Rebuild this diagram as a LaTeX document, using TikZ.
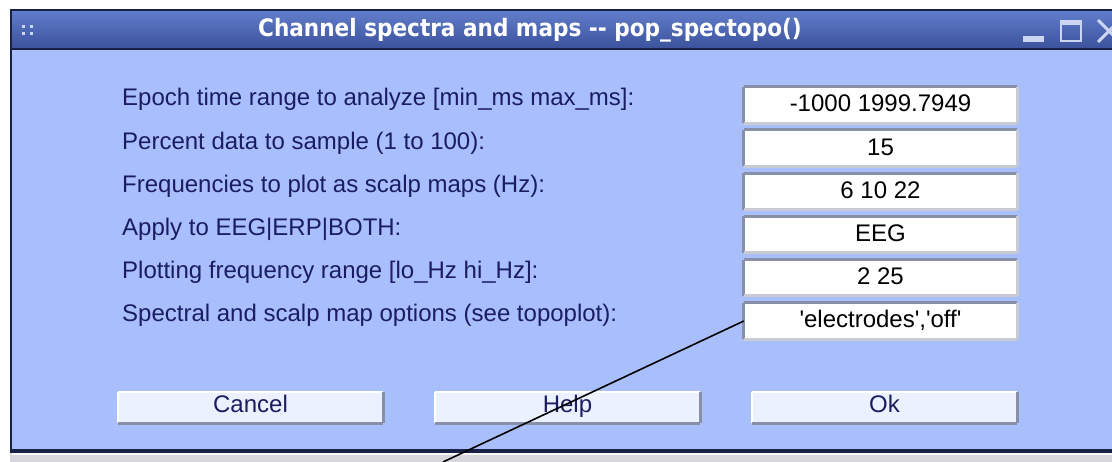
\documentclass[tikz,border=0pt]{standalone}
\usepackage{fontspec}
\setmainfont{Liberation Sans}
\IfFontExistsTF{DejaVu Sans Condensed}
  {\newfontfamily\titlefont{DejaVu Sans Condensed}[BoldFont={DejaVu Sans Condensed Bold}]}
  {\newfontfamily\titlefont{Liberation Sans}}
\definecolor{bodyblue}{RGB}{168,191,252}
\definecolor{labelnavy}{RGB}{28,28,96}
\definecolor{bartop}{RGB}{98,126,204}
\definecolor{barbot}{RGB}{58,80,154}
\definecolor{framec}{RGB}{24,32,72}
\definecolor{bevdark}{RGB}{136,144,168}
\definecolor{bevlight}{RGB}{200,202,212}
\definecolor{btnfill}{RGB}{236,241,255}
\definecolor{ctrlc}{RGB}{204,214,242}
\definecolor{graybar}{RGB}{214,214,220}
\tikzset{
  bevd/.style={draw=bevdark, line width=3pt},
  bevl/.style={draw=bevlight, line width=3pt},
  bevw/.style={draw=white, line width=1.5pt},
  lbl/.style={anchor=base west, inner sep=0pt, text=labelnavy, font=\fontsize{24pt}{28pt}\selectfont},
  field/.style={fill=white, minimum width=273pt, minimum height=36pt, inner sep=0pt,
    text height=25pt, text depth=11pt, text=black, font=\fontsize{24pt}{28pt}\selectfont,
    append after command={
      (\tikzlastnode.south west) edge[bevd] (\tikzlastnode.north west)
      (\tikzlastnode.north west) edge[bevd] (\tikzlastnode.north east)
      (\tikzlastnode.north east) edge[bevl] (\tikzlastnode.south east)
      (\tikzlastnode.south east) edge[bevl] (\tikzlastnode.south west)}},
  btn/.style={fill=btnfill, minimum width=265pt, minimum height=31pt, inner sep=0pt,
    text height=21pt, text depth=10pt, text=labelnavy, font=\fontsize{24pt}{28pt}\selectfont,
    append after command={
      (\tikzlastnode.south west) edge[bevw] (\tikzlastnode.north west)
      (\tikzlastnode.north west) edge[bevw] (\tikzlastnode.north east)
      (\tikzlastnode.north east) edge[bevd] (\tikzlastnode.south east)
      (\tikzlastnode.south east) edge[bevd] (\tikzlastnode.south west)}},
  titletext/.style={text=white, inner sep=0pt, font=\titlefont\fontsize{24pt}{29pt}\selectfont\bfseries},
  pointer/.style={draw=black, line width=1.6pt}
}
\begin{document}
\begin{tikzpicture}[x=1pt,y=-1pt]
\useasboundingbox (0,0) rectangle (1112,462);
\fill[white] (0,0) rectangle (1112,462);
% body
\fill[bodyblue] (10,50) rectangle (1112,451);
% title bar
\shade[top color=bartop, bottom color=barbot] (10,10) rectangle (1112,50);
\fill[framec] (10,9.5) rectangle (1112,11);
\fill[framec] (10,48.5) rectangle (1112,50.5);
% left border and bottom
\fill[framec] (9.5,10) rectangle (12,452);
\fill[framec] (10,449.5) rectangle (1112,452.5);
\fill[graybar] (10,452.5) rectangle (1112,462);
\fill[white!80!graybar] (12,453) rectangle (1112,455);
% title decorations
\foreach \dx in {22,30} \foreach \dy in {25,32} \fill[ctrlc] (\dx,\dy) rectangle ++(3,3);
\node[titletext] (title) at (530,30) {Channel spectra and maps -{}- pop\_spectopo()};
\fill[ctrlc] (1023,36) rectangle (1044,42);
\draw[ctrlc, line width=2pt] (1061,21) rectangle (1081,41);
\fill[ctrlc] (1060,20) rectangle (1082,25);
\draw[ctrlc, line width=3pt] (1098,20) -- (1120,42) (1098,42) -- (1120,20);
% labels
\node[lbl] (l1) at (122,106) {Epoch time range to analyze [min\_ms max\_ms]:};
\node[lbl] (l2) at (122,149.2) {Percent data to sample (1 to 100):};
\node[lbl] (l3) at (122,192.4) {Frequencies to plot as scalp maps (Hz):};
\node[lbl] (l4) at (122,235.6) {Apply to EEG|ERP|BOTH:};
\node[lbl] (l5) at (122,278.8) {Plotting frequency range [lo\_Hz hi\_Hz]:};
\node[lbl] (l6) at (122,322) {Spectral and scalp map options (see topoplot):};
% fields
\node[field] (f1) at (880.5,105) {-1000 1999.7949};
\node[field] (f2) at (880.5,148.2) {15};
\node[field] (f3) at (880.5,191.4) {6 10 22};
\node[field] (f4) at (880.5,234.6) {EEG};
\node[field] (f5) at (880.5,277.8) {2 25};
\node[field] (f6) at (880.5,321) {\textquotesingle electrodes\textquotesingle,\textquotesingle off\textquotesingle};
% buttons
\node[btn] (cancel) at (250.5,407.5) {Cancel};
\node[btn] (help) at (567.5,407.5) {Help};
\node[btn] (ok) at (884.5,407.5) {Ok};
% pointer line
\coordinate (tail) at (443,462);
\draw[pointer] (f6.west) -- (tail);
\end{tikzpicture}
\end{document}
